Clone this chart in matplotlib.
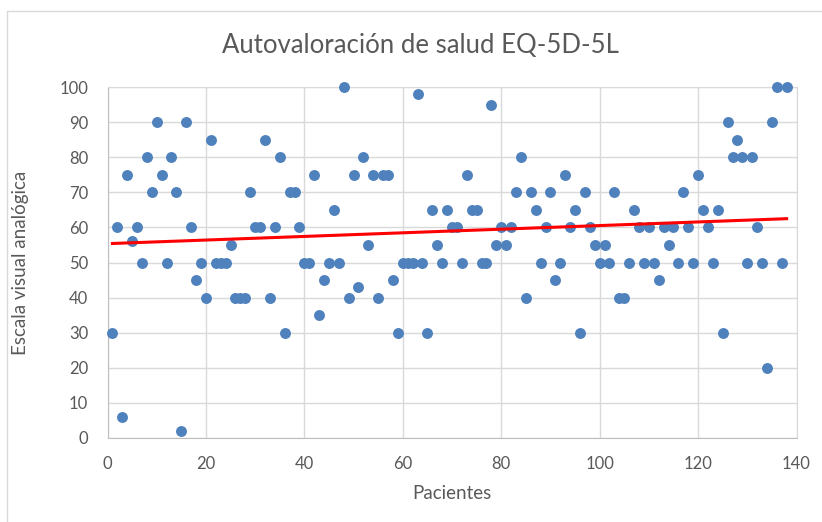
import matplotlib

matplotlib.use("Agg")
import matplotlib.pyplot as plt
import numpy as np
from matplotlib.patches import Rectangle

# Valores: un punto por paciente
pacientes = list(range(1, 139))
eva = [
    30, 60, 6, 75, 56, 60, 50, 80, 70, 90,
    75, 50, 80, 70, 2, 90, 60, 45, 50, 40,
    85, 50, 50, 50, 55, 40, 40, 40, 70, 60,
    60, 85, 40, 60, 80, 30, 70, 70, 60, 50,
    50, 75, 35, 45, 50, 65, 50, 100, 40, 75,
    43, 80, 55, 75, 40, 75, 75, 45, 30, 50,
    50, 50, 98, 50, 30, 65, 55, 50, 65, 60,
    60, 50, 75, 65, 65, 50, 50, 95, 55, 60,
    55, 60, 70, 80, 40, 70, 65, 50, 60, 70,
    45, 50, 75, 60, 65, 30, 70, 60, 55, 50,
    55, 50, 70, 40, 40, 50, 65, 60, 50, 60,
    50, 45, 60, 55, 60, 50, 70, 60, 50, 75,
    65, 60, 50, 65, 30, 90, 80, 85, 80, 50,
    80, 60, 50, 20, 90, 100, 50, 100,
]
x_ticks = [0, 20, 40, 60, 80, 100, 120, 140]
y_ticks = [0, 10, 20, 30, 40, 50, 60, 70, 80, 90, 100]

gris = "#595959"
plt.rcParams["font.family"] = ["Lato", "DejaVu Sans"]

fig = plt.figure(figsize=(8.22, 5.22), dpi=100)
fig.patches.append(Rectangle((7 / 822, -0.05), 1.2, 1 - 11 / 522 + 0.05,
                             transform=fig.transFigure, fill=False,
                             edgecolor="#d9d9d9", linewidth=1.0))
ax = fig.add_axes([107.5 / 822, 1 - 438 / 522, 689 / 822, 351 / 522])

ax.scatter(pacientes, eva, s=62, color="#4F81BD", zorder=3, linewidths=0,
           clip_on=False)

x = np.array(pacientes)
m, b = np.polyfit(x, np.array(eva), 1)
ax.plot([x.min(), x.max()], [m * x.min() + b, m * x.max() + b],
        color="#FF0000", linewidth=2.2, zorder=4)

ax.set_xlim(0, 140)
ax.set_ylim(0, 100)
ax.set_xticks(x_ticks)
ax.set_yticks(y_ticks)
ax.grid(True, color="#d9d9d9", linewidth=1.0)
ax.set_axisbelow(True)
for side in ["top", "right"]:
    ax.spines[side].set_color("#d9d9d9")
for side in ["left", "bottom"]:
    ax.spines[side].set_color("#bfbfbf")
ax.tick_params(length=0, labelsize=12, labelcolor=gris)
ax.tick_params(axis="x", pad=13)
ax.tick_params(axis="y", pad=14)

ax.set_xlabel("Pacientes", fontsize=13.5, color=gris, labelpad=9)
ax.set_ylabel("Escala visual analógica", fontsize=13.5, color=gris, labelpad=22)
fig.text(420 / 822, 1 - 45 / 522, "Autovaloración de salud EQ-5D-5L",
         ha="center", va="center", fontsize=18.5, color=gris)

fig.savefig("out.png", dpi=100)
plt.close(fig)
